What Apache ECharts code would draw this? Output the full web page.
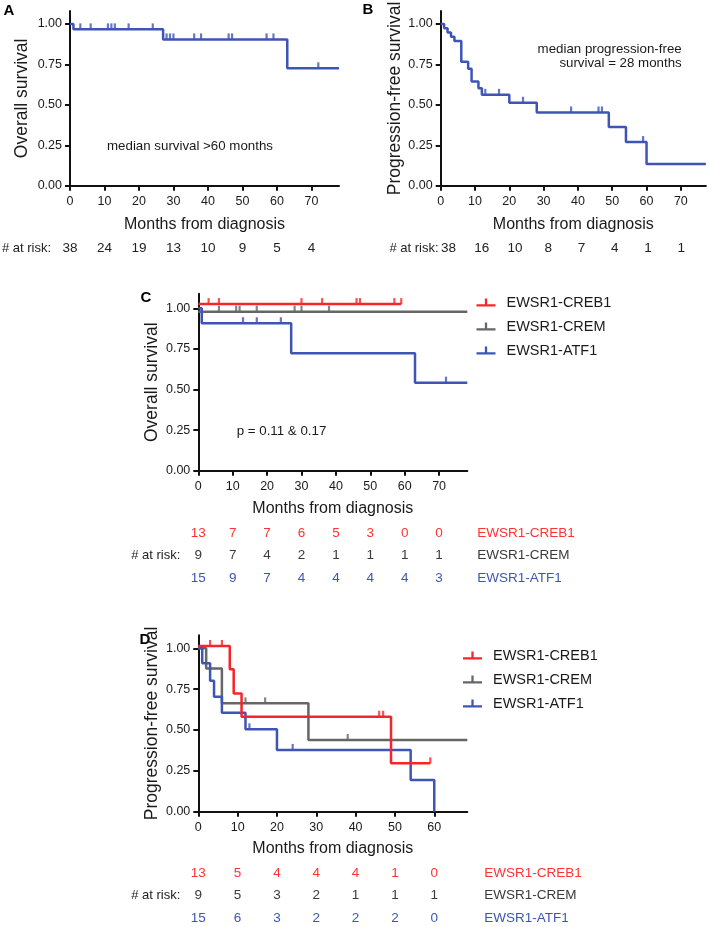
<!DOCTYPE html>
<html><head><meta charset="utf-8">
<script src="https://cdn.jsdelivr.net/npm/echarts@6/dist/echarts.min.js"></script>
<style>html,body{margin:0;padding:0;background:#fff}#c{width:709px;height:927px}</style>
</head><body><div id="c"></div>
<script>
// ---------- data ----------
const xTicks = [0,10,20,30,40,50,60,70];
const xTicksD = [0,10,20,30,40,50,60];
const yTicks = [0,0.25,0.5,0.75,1];
const groups = ['EWSR1-CREB1','EWSR1-CREM','EWSR1-ATF1'];

// Panel A (overall survival, all)
const aTimes = [0,1,27,63,78];
const aSurv = [1.0,0.967,0.905,0.726,0.726];
const aCensor = [3,6,11,12,13,17,24,28,29,30,36,38,46,47,57,59,72];
const aRisk = [38,24,19,13,10,9,5,4];

// Panel B (progression-free survival, all)
const bTimes = [0,1,2,3,4,6,8,9,11,12,20,28,49,54,60,77.3];
const bSurv = [1.0,0.974,0.947,0.921,0.895,0.766,0.724,0.645,0.603,0.562,0.513,0.453,0.363,0.270,0.134,0.134];
const bCensor = [13,17,24,38,46,47,59];
const bRisk = [38,16,10,8,7,4,1,1];

// Panel C (overall survival by fusion)
const cCreb1Times = [0,59], cCreb1Surv = [1.026,1.026];
const cCreb1Censor = [3,6,30,36,46,47,57,59];
const cCremTimes = [0,78.2], cCremSurv = [0.979,0.979];
const cCremCensor = [6,11,12,17,28,30,38];
const cAtf1Times = [0,1,27,63,78.2], cAtf1Surv = [1.0,0.908,0.723,0.542,0.542];
const cAtf1Censor = [13,17,24,72];
const cRiskCreb1 = [13,7,7,6,5,3,0,0];
const cRiskCrem = [9,7,4,2,1,1,1,1];
const cRiskAtf1 = [15,9,7,4,4,4,4,3];

// Panel D (progression-free survival by fusion)
const dCreb1Times = [0,8,9,11,49,59], dCreb1Surv = [1.014,0.871,0.724,0.581,0.296,0.296];
const dCreb1Censor = [3,6,46,47,59];
const dCremTimes = [0,2,6,28,68.4], dCremSurv = [1.0,0.877,0.663,0.439,0.439];
const dCremCensor = [12,17,38];
const dAtf1Times = [0,1,3,4,6,12,20,54,60], dAtf1Surv = [1.0,0.908,0.802,0.704,0.606,0.504,0.378,0.194,0];
const dAtf1Censor = [13,24];
const dRiskCreb1 = [13,5,4,4,4,1,0];
const dRiskCrem = [9,5,3,2,1,1,1];
const dRiskAtf1 = [15,6,3,2,2,2,0];

// ---------- style ----------
const FONT = "'Liberation Sans', Arial, Helvetica, sans-serif";
const RED = '#f5262b', GRAY = '#666666', BLUE = '#3f55b5', INK = '#1a1a1a';
const RISK_COLORS = ['#ff3333', '#3a3a3a', '#3f55b5'];

function survAt(times, surv, t){ let v = surv[0]; for (let i=0;i<times.length;i++){ if (times[i] <= t) v = surv[i]; } return v; }
function stepSeries(name, times, surv, color, idx){
  return {type:'line', name, xAxisIndex:idx, yAxisIndex:idx, step:'end', symbol:'none', showSymbol:false,
    data: times.map((t,i)=>[t,surv[i]]), lineStyle:{color, width:2.5}, itemStyle:{color}, silent:true, animation:false, z:3};
}
function censorSeries(name, ctimes, times, surv, color, idx){
  return {type:'scatter', name, xAxisIndex:idx, yAxisIndex:idx, symbol:'rect', symbolSize:[2.2,6], symbolOffset:[0,-3],
    data: ctimes.map(t=>[t, survAt(times, surv, t)]), itemStyle:{color}, silent:true, animation:false, z:4};
}
function mainX(gi, max, ticks, nameGap){
  return {gridIndex:gi, type:'value', min:0, max, name:'Months from diagnosis', nameLocation:'middle', nameGap,
    nameTextStyle:{fontFamily:FONT, fontSize:16, color:INK},
    axisLine:{show:true, onZero:false, lineStyle:{color:'#111', width:2}},
    axisTick:{show:true, inside:false, length:5, customValues:ticks, lineStyle:{color:'#111', width:2}},
    axisLabel:{customValues:ticks, margin:9, fontFamily:FONT, fontSize:12.5, color:INK},
    splitLine:{show:false}};
}
function mainY(gi, max, name, nameGap){
  return {gridIndex:gi, type:'value', min:0, max, name, nameLocation:'middle', nameGap,
    nameTextStyle:{fontFamily:FONT, fontSize:17.5, color:INK},
    axisLine:{show:true, onZero:false, lineStyle:{color:'#111', width:2}},
    axisTick:{show:true, inside:false, length:5, customValues:yTicks, lineStyle:{color:'#111', width:2}},
    axisLabel:{customValues:yTicks, margin:8, fontFamily:FONT, fontSize:12.5, color:INK, formatter:v=>Number(v).toFixed(2)},
    splitLine:{show:false}};
}
function riskX(gi, max){ return {gridIndex:gi, type:'value', min:0, max, show:false}; }
function riskYLeft(gi, rows, midLabel, margin){
  const cats = rows.map((_,i)=>String(i));
  return {gridIndex:gi, type:'category', data:cats, inverse:true, position:'left',
    axisLine:{show:false}, axisTick:{show:false}, splitLine:{show:false},
    axisLabel:{margin, fontFamily:FONT, fontSize:13, color:'#222',
      formatter:(v,i)=> i===midLabel ? '# at risk:' : ''}};
}
function riskYRight(gi, margin){
  return {gridIndex:gi, type:'category', data:groups, inverse:true, position:'right',
    axisLine:{show:false}, axisTick:{show:false}, splitLine:{show:false},
    axisLabel:{margin, fontFamily:FONT, fontSize:13.5, color:(v,i)=>RISK_COLORS[groups.indexOf(v)]}};
}
function coloredRisk(rows, ticks, xi, yi, colors){
  return rows.map((r,ri)=>({type:'scatter', xAxisIndex:xi, yAxisIndex:yi, symbolSize:2,
    itemStyle:{color:'rgba(255,255,255,0)'},
    silent:true, animation:false,
    data:r.map((n,ci)=>[ticks[ci], ri, n]),
    label:{show:true, position:'inside', fontFamily:FONT, fontSize:13.5, color:colors[ri], opacity:1,
      formatter:p=>String(p.value[2])},
    labelLayout:{hideOverlap:false}}));
}

const legendIcon = 'path://M0,6 L20,6 L20,8.4 L0,8.4 Z M8.8,0 L11.2,0 L11.2,6 L8.8,6 Z';
const legendBase = {data:groups, orient:'vertical', padding:0, itemWidth:19, itemHeight:8, itemGap:8, icon:legendIcon,
  textStyle:{fontFamily:FONT, fontSize:14.5, color:INK, lineHeight:16, padding:[0,0,0,6]}, selectedMode:false};

const option = {
  backgroundColor:'#fff',
  animation:false,
  grid:[
    {left:70, top:11.1, width:269, height:174.6},
    {left:440.7, top:11.1, width:265.2, height:174.6},
    {left:198.3, top:293.7, width:269, height:177},
    {left:198.3, top:635.2, width:269, height:176.5},
    {left:70, top:238.3, width:269, height:20},
    {left:448.5, top:238.3, width:257, height:20},
    {left:198.3, top:522, width:269, height:67.5},
    {left:198.3, top:862, width:269, height:67.5}
  ].map(g=>Object.assign({containLabel:false, outerBoundsMode:'none'}, g)),
  xAxis:[
    mainX(0, 78, xTicks, 30.5),
    mainX(1, 77.3, xTicks, 30.5),
    mainX(2, 78.2, xTicks, 29.5),
    mainX(3, 68.4, xTicksD, 28.5),
    riskX(4, 78), riskX(5, 77.3), riskX(6, 78.2), riskX(7, 68.4)
  ],
  yAxis:[
    mainY(0, 1.08, 'Overall survival', 39),
    mainY(1, 1.08, 'Progression-free survival', 36),
    mainY(2, 1.09, 'Overall survival', 37),
    mainY(3, 1.08, 'Progression-free survival', 37),
    riskYLeft(4, [aRisk], 0, 19),
    riskYLeft(5, [bRisk], 0, 10),
    riskYLeft(6, [cRiskCreb1,cRiskCrem,cRiskAtf1], 1, 18),
    riskYRight(6, 10),
    riskYLeft(7, [dRiskCreb1,dRiskCrem,dRiskAtf1], 1, 18),
    riskYRight(7, 17)
  ],
  legend:[
    Object.assign({left:476.5, top:294.5}, legendBase),
    Object.assign({left:463, top:647.5}, legendBase)
  ],
  series:[
    stepSeries('A', aTimes, aSurv, BLUE, 0),
    censorSeries('A censored', aCensor, aTimes, aSurv, BLUE, 0),
    stepSeries('B', bTimes, bSurv, BLUE, 1),
    censorSeries('B censored', bCensor, bTimes, bSurv, BLUE, 1),

    stepSeries('EWSR1-CREM', cCremTimes, cCremSurv, GRAY, 2),
    censorSeries('C CREM censored', cCremCensor, cCremTimes, cCremSurv, GRAY, 2),
    stepSeries('EWSR1-ATF1', cAtf1Times, cAtf1Surv, BLUE, 2),
    censorSeries('C ATF1 censored', cAtf1Censor, cAtf1Times, cAtf1Surv, BLUE, 2),
    stepSeries('EWSR1-CREB1', cCreb1Times, cCreb1Surv, RED, 2),
    censorSeries('C CREB1 censored', cCreb1Censor, cCreb1Times, cCreb1Surv, RED, 2),

    stepSeries('EWSR1-CREM', dCremTimes, dCremSurv, GRAY, 3),
    censorSeries('D CREM censored', dCremCensor, dCremTimes, dCremSurv, GRAY, 3),
    stepSeries('EWSR1-ATF1', dAtf1Times, dAtf1Surv, BLUE, 3),
    censorSeries('D ATF1 censored', dAtf1Censor, dAtf1Times, dAtf1Surv, BLUE, 3),
    stepSeries('EWSR1-CREB1', dCreb1Times, dCreb1Surv, RED, 3),
    censorSeries('D CREB1 censored', dCreb1Censor, dCreb1Times, dCreb1Surv, RED, 3),

    ...coloredRisk([aRisk], xTicks, 4, 4, ['#222']),
    ...coloredRisk([bRisk], xTicks, 5, 5, ['#222']),
    ...coloredRisk([cRiskCreb1,cRiskCrem,cRiskAtf1], xTicks, 6, 6, RISK_COLORS),
    ...coloredRisk([dRiskCreb1,dRiskCrem,dRiskAtf1], xTicksD, 7, 8, RISK_COLORS)
  ],
  graphic:[
    {type:'text', x:9, y:11, style:{text:'A', fontFamily:FONT, fontSize:15, fontWeight:'bold', fill:'#000', align:'center', verticalAlign:'middle'}},
    {type:'text', x:368, y:10, style:{text:'B', fontFamily:FONT, fontSize:15, fontWeight:'bold', fill:'#000', align:'center', verticalAlign:'middle'}},
    {type:'text', x:146, y:297.5, style:{text:'C', fontFamily:FONT, fontSize:15, fontWeight:'bold', fill:'#000', align:'center', verticalAlign:'middle'}},
    {type:'text', x:145, y:640, style:{text:'D', fontFamily:FONT, fontSize:15, fontWeight:'bold', fill:'#000', align:'center', verticalAlign:'middle'}},
    {type:'text', x:190, y:146.7, style:{text:'median survival >60 months', fontFamily:FONT, fontSize:13.3, fill:INK, align:'center', verticalAlign:'middle'}},
    {type:'text', x:681.7, y:49.3, style:{text:'median progression-free', fontFamily:FONT, fontSize:13.3, fill:INK, align:'right', verticalAlign:'middle'}},
    {type:'text', x:681.7, y:63.5, style:{text:'survival = 28 months', fontFamily:FONT, fontSize:13.3, fill:INK, align:'right', verticalAlign:'middle'}},
    {type:'text', x:236.7, y:431.7, style:{text:'p = 0.11 & 0.17', fontFamily:FONT, fontSize:13.3, fill:INK, align:'left', verticalAlign:'middle'}}
  ]
};
const chart = echarts.init(document.getElementById('c'), null, {renderer:'canvas'});
chart.setOption(option);
</script></body></html>
